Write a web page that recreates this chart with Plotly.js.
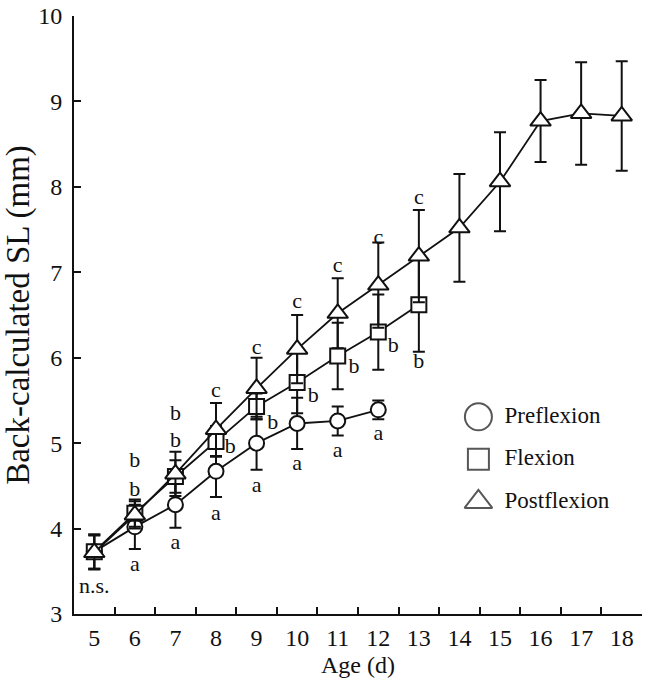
<!DOCTYPE html>
<html>
<head>
<meta charset="utf-8">
<script src="https://cdn.plot.ly/plotly-3.0.1.min.js"></script>
<style>html,body{margin:0;padding:0;background:#fff;}#chart{width:646px;height:679px;}</style>
</head>
<body>
<div id="chart"></div>
<script>
// ---- data ----
const preDays  = [5, 6, 7, 8, 9, 10, 11, 12];
const preMean  = [3.73, 4.02, 4.28, 4.67, 5.00, 5.23, 5.26, 5.39];
const preSD    = [0.20, 0.26, 0.27, 0.30, 0.31, 0.30, 0.17, 0.11];

const flexDays = [5, 6, 7, 8, 9, 10, 11, 12, 13];
const flexMean = [3.73, 4.18, 4.61, 5.02, 5.43, 5.71, 6.02, 6.30, 6.62];
const flexSD   = [0.20, 0.16, 0.19, 0.18, 0.15, 0.36, 0.39, 0.44, 0.55];

const postDays = [5, 6, 7, 8, 9, 10, 11, 12, 13, 14, 15, 16, 17, 18];
const postMean = [3.72, 4.16, 4.64, 5.16, 5.64, 6.10, 6.52, 6.85, 7.19, 7.52, 8.06, 8.77, 8.86, 8.83];
const postSD   = [0.20, 0.16, 0.26, 0.31, 0.36, 0.40, 0.41, 0.50, 0.54, 0.63, 0.58, 0.48, 0.60, 0.64];

const xTickLabels = [5, 6, 7, 8, 9, 10, 11, 12, 13, 14, 15, 16, 17, 18];
const yTicks = [3, 4, 5, 6, 7, 8, 9, 10];

// significance letters
const letterText = ['n.s.', 'a','b','b', 'a','b','b', 'a','b','c', 'a','b','c', 'a','b','c', 'a','b','c', 'a','b','c', 'b','c'];
const letterX    = [5, 6,6,6, 7,7,7, 8,8.35,8, 9,9.4,9, 10,10.4,10, 11,11.4,11, 12,12.37,12, 13,13];
const letterY    = [3.31, 3.57,4.45,4.78, 3.83,5.02,5.33, 4.17,4.95,5.60, 4.49,5.23,6.11, 4.75,5.55,6.65, 4.90,5.88,7.07, 5.10,6.13,7.40, 5.94,7.86];

const legendNames = ['Preflexion', 'Flexion', 'Postflexion'];
const legendSymbols = ['circle', 'square', 'triangle-up'];

// ---- styles ----
const FONT = '"Liberation Serif", "Times New Roman", serif';
const INK = '#111';
const errStyle = arr => ({type: 'data', array: arr, visible: true, color: INK, thickness: 2, width: 6});
const mk = (sym, size) => ({symbol: sym, size: size, color: '#fff', line: {color: INK, width: 2}});

const traces = [
  {x: preDays, y: preMean, error_y: errStyle(preSD), mode: 'lines+markers',
   line: {color: INK, width: 1.8}, marker: mk('circle', 15), showlegend: false, cliponaxis: false},
  {x: flexDays, y: flexMean, error_y: errStyle(flexSD), mode: 'lines+markers',
   line: {color: INK, width: 1.8}, marker: mk('square', 15), showlegend: false, cliponaxis: false},
  {x: postDays, y: postMean, error_y: errStyle(postSD), mode: 'lines+markers',
   line: {color: INK, width: 1.8}, marker: mk('triangle-up', 18), showlegend: false, cliponaxis: false},
  {x: letterX, y: letterY, text: letterText, mode: 'text', textposition: 'middle center',
   xaxis: 'x3', yaxis: 'y',
   textfont: {family: FONT, size: 22, color: INK}, showlegend: false, cliponaxis: false, hoverinfo: 'skip'},
  // legend (drawn on its own small axes)
  {x: legendNames.map(() => 0), y: legendNames.map((_, i) => -i), mode: 'markers',
   marker: {symbol: legendSymbols, size: [27, 21, 24], color: '#fff', line: {color: INK, width: 2}},
   xaxis: 'x2', yaxis: 'y2', showlegend: false, hoverinfo: 'skip', cliponaxis: false},
  {x: legendNames.map(() => 0.16), y: legendNames.map((_, i) => -i), text: legendNames, mode: 'text',
   textposition: 'middle right', textfont: {family: FONT, size: 23, color: INK},
   xaxis: 'x2', yaxis: 'y2', showlegend: false, hoverinfo: 'skip', cliponaxis: false}
];

const halfTicks = [xTickLabels[0] - 0.5].concat(xTickLabels.map(d => d + 0.5));
const xRange = [halfTicks[0], halfTicks[halfTicks.length - 1]];

const layout = {
  width: 646, height: 679,
  margin: {l: 74, r: 4, t: 16, b: 65},
  paper_bgcolor: '#fff', plot_bgcolor: '#fff',
  font: {family: FONT, color: INK, size: 24},
  showlegend: false,
  xaxis: {
    range: xRange, showgrid: false, zeroline: false,
    showline: true, linecolor: INK, linewidth: 2,
    ticks: 'inside', ticklen: 7, tickwidth: 2, tickcolor: INK,
    tickvals: halfTicks, showticklabels: false,
    title: {text: ''}
  },
  xaxis3: {
    overlaying: 'x', anchor: 'y', side: 'bottom',
    range: xRange, showgrid: false, zeroline: false, showline: false,
    ticks: '', tickvals: xTickLabels, ticktext: xTickLabels.map(String),
    tickfont: {family: FONT, size: 24, color: INK}, ticklabelstandoff: 7,
    title: {text: 'Age (d)', font: {family: FONT, size: 24, color: INK}, standoff: 6}
  },
  yaxis: {
    range: [3, 10], showgrid: false, zeroline: false,
    showline: true, linecolor: INK, linewidth: 2,
    ticks: 'inside', ticklen: 7, tickwidth: 2, tickcolor: INK,
    tickvals: yTicks, tickfont: {family: FONT, size: 24, color: INK}, ticklabelstandoff: 5,
    title: {text: 'Back-calculated SL (mm)', font: {family: FONT, size: 33, color: INK}, standoff: 8}
  },
  xaxis2: {domain: [0.712, 1.0], range: [0, 1], visible: false, fixedrange: true, anchor: 'y2'},
  yaxis2: {domain: [0.15, 0.40], range: [-2.527, 0.988], visible: false, fixedrange: true, anchor: 'x2'}
};

Plotly.newPlot('chart', traces, layout, {displayModeBar: false, staticPlot: true});
</script>
</body>
</html>
